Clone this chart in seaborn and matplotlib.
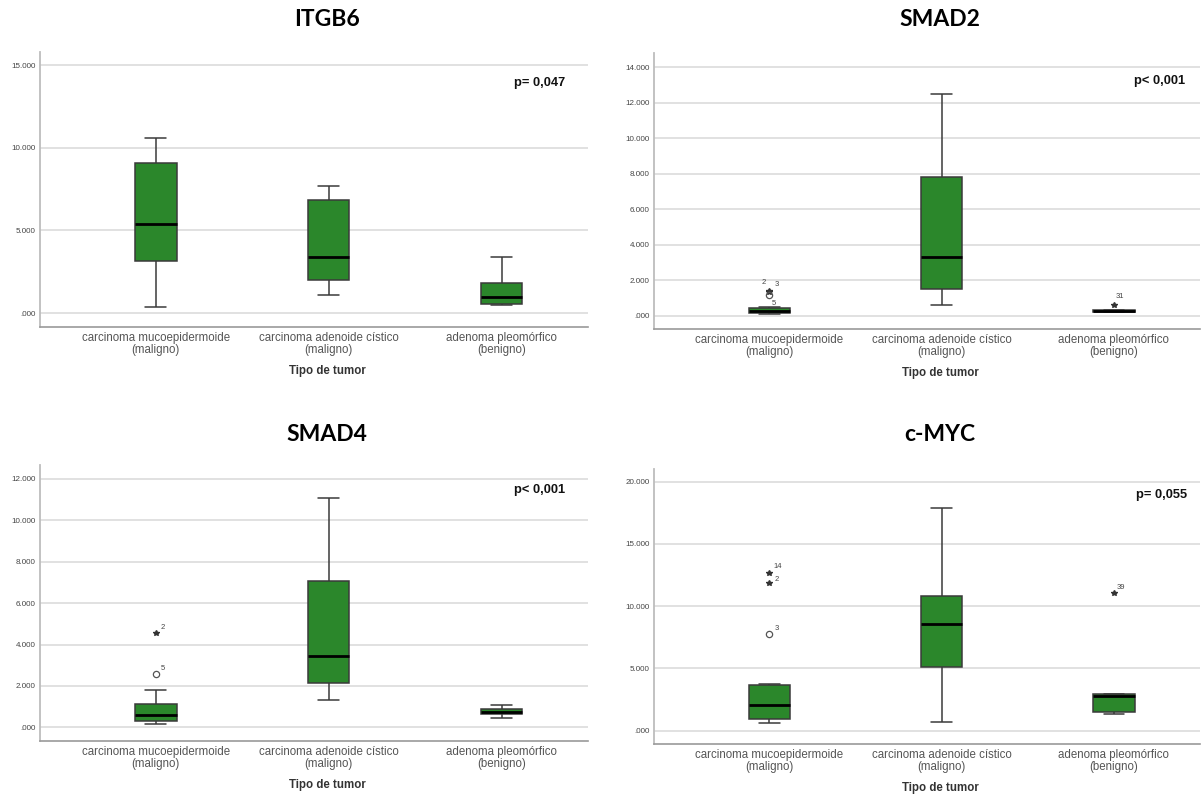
import numpy as np
import pandas as pd
import matplotlib
matplotlib.use("Agg")
import matplotlib.pyplot as plt
import seaborn as sns

# categorias do eixo x
grupos = ["carcinoma mucoepidermoide\n(maligno)",
          "carcinoma adenoide cístico\n(maligno)",
          "adenoma pleomórfico\n(benigno)"]

# resumo de cinco números por gene (mín, Q1, mediana, Q3, máx)
itgb6_min = [0.36, 1.10, 0.46]
itgb6_q1 = [3.12, 2.03, 0.54]
itgb6_med = [5.37, 3.40, 0.99]
itgb6_q3 = [9.08, 6.86, 1.81]
itgb6_max = [10.61, 7.68, 3.40]

smad2_min = [0.10, 0.62, 0.20]
smad2_q1 = [0.17, 1.52, 0.21]
smad2_med = [0.28, 3.31, 0.26]
smad2_q3 = [0.45, 7.81, 0.32]
smad2_max = [0.47, 12.49, 0.33]

smad4_min = [0.18, 1.32, 0.47]
smad4_q1 = [0.32, 2.16, 0.64]
smad4_med = [0.61, 3.46, 0.74]
smad4_q3 = [1.13, 7.05, 0.90]
smad4_max = [1.79, 11.10, 1.08]

cmyc_min = [0.64, 0.72, 1.34]
cmyc_q1 = [0.96, 5.14, 1.53]
cmyc_med = [2.03, 8.54, 2.76]
cmyc_q3 = [3.64, 10.82, 2.95]
cmyc_max = [3.78, 17.89, 2.97]

# outliers: grupo, valor, tipo (* extremo, o atípico), caso
smad2_out_grupo = [0, 0, 0, 2]
smad2_out_valor = [1.39, 1.36, 1.17, 0.60]
smad2_out_tipo = ["*", "*", "o", "*"]
smad2_out_caso = ["2", "3", "5", "31"]

smad4_out_grupo = [0, 0]
smad4_out_valor = [4.54, 2.59]
smad4_out_tipo = ["*", "o"]
smad4_out_caso = ["2", "5"]

cmyc_out_grupo = [0, 0, 0, 2]
cmyc_out_valor = [12.66, 11.83, 7.79, 11.06]
cmyc_out_tipo = ["*", "*", "o", "*"]
cmyc_out_caso = ["14", "2", "3", "39"]

titulos = ["ITGB6", "SMAD2", "SMAD4", "c-MYC"]
p_valores = ["p= 0,047", "p< 0,001", "p< 0,001", "p= 0,055"]
yticks = [[0, 5, 10, 15], [0, 2, 4, 6, 8, 10, 12, 14],
          [0, 2, 4, 6, 8, 10, 12], [0, 5, 10, 15, 20]]

paineis = [
    (itgb6_min, itgb6_q1, itgb6_med, itgb6_q3, itgb6_max, None),
    (smad2_min, smad2_q1, smad2_med, smad2_q3, smad2_max,
     (smad2_out_grupo, smad2_out_valor, smad2_out_tipo, smad2_out_caso)),
    (smad4_min, smad4_q1, smad4_med, smad4_q3, smad4_max,
     (smad4_out_grupo, smad4_out_valor, smad4_out_tipo, smad4_out_caso)),
    (cmyc_min, cmyc_q1, cmyc_med, cmyc_q3, cmyc_max,
     (cmyc_out_grupo, cmyc_out_valor, cmyc_out_tipo, cmyc_out_caso)),
]

# layout (pixels: esquerda, topo, direita, base) e limites
caixas_px = [(40, 52, 588, 327), (654, 53, 1200, 329),
             (40, 465, 588, 741), (654, 469, 1200, 744)]
ylims = [(-0.846, 15.805), (-0.749, 14.806), (-0.662, 12.676), (-1.071, 21.017)]
p_pos = [(0.958, 0.887), (0.9725, 0.899), (0.958, 0.909), (0.976, 0.905)]
titulo_y = [1.12, 1.12, 1.112, 1.125]
# deslocamento dos rótulos dos casos (pontos)
desloc = {
    "SMAD2": [(-4, 6), (5, 5), (3, -6), (4, 6)],
    "SMAD4": [(5, 4), (5, 4)],
    "c-MYC": [(6, 5), (5, 3), (5, 4), (5, 4)],
}

verde = "#2b872b"

sns.set_style("white")
plt.rcParams["font.family"] = ["Liberation Sans", "DejaVu Sans"]

W, H = 1202, 796
fig = plt.figure(figsize=(W / 100, H / 100), dpi=100)

for i, (mn, q1, md, q3, mx, outs) in enumerate(paineis):
    l, t, r, b = caixas_px[i]
    ax = fig.add_axes([l / W, 1 - b / H, (r - l) / W, (b - t) / H])

    linhas = []
    for g, nome in enumerate(grupos):
        for v in (mn[g], q1[g], md[g], q3[g], mx[g]):
            linhas.append({"grupo": nome, "valor": v})
    df = pd.DataFrame(linhas)

    sns.boxplot(data=df, x="grupo", y="valor", order=grupos, ax=ax,
                whis=(0, 100), width=0.24, color=verde, saturation=1,
                linecolor="#3a3a3a", linewidth=1.1, showfliers=False,
                medianprops={"color": "black", "linewidth": 2})

    if outs is not None:
        og, ov, ot, oc = outs
        offs = desloc[titulos[i]]
        for k in range(len(og)):
            if ot[k] == "*":
                ax.plot(og[k], ov[k], marker="*", ms=4, color="#333333",
                        ls="none", zorder=5)
            else:
                ax.plot(og[k], ov[k], marker="o", ms=4.5, mfc="none",
                        mec="#555555", mew=0.9, ls="none", zorder=5)
            ax.annotate(oc[k], (og[k], ov[k]), xytext=offs[k],
                        textcoords="offset points", fontsize=5.5,
                        color="#444444", ha="center", va="center")

    ax.set_xlim(-0.67, 2.50)
    ax.set_ylim(*ylims[i])
    ax.set_yticks(yticks[i])
    ax.set_yticklabels([f"{v:.3f}".lstrip("0") for v in yticks[i]])
    ax.yaxis.grid(True, color="#dcdcdc", linewidth=1.2)
    ax.set_axisbelow(True)
    ax.tick_params(axis="y", length=0, pad=3, labelsize=5.8, labelcolor="#444444")
    ax.tick_params(axis="x", length=0, pad=3.5, labelsize=8.3, labelcolor="#555555")
    for lab in ax.get_xticklabels():
        lab.set_linespacing(1.05)

    for s in ("top", "right"):
        ax.spines[s].set_visible(False)
    ax.spines["left"].set_color("#bdbdbd")
    ax.spines["bottom"].set_color("#9a9a9a")
    ax.spines["left"].set_linewidth(1.3)
    ax.spines["bottom"].set_linewidth(1.2)

    ax.set_ylabel("")
    ax.set_xlabel("Tipo de tumor", fontsize=8.3, fontweight="bold", color="#333333")
    ax.xaxis.set_label_coords(0.524, -0.138)

    ax.text(0.524, titulo_y[i], titulos[i], transform=ax.transAxes, ha="center",
            va="center", fontsize=16.5, fontweight="bold",
            family=["Lato", "DejaVu Sans"], color="black")
    ax.text(p_pos[i][0], p_pos[i][1], p_valores[i], transform=ax.transAxes,
            ha="right", va="center", fontsize=9.3, fontweight="bold",
            color="#111111")

fig.savefig("out.png", dpi=100)
